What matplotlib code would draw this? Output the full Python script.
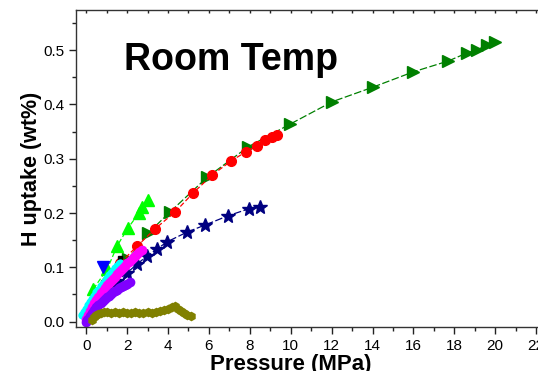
import matplotlib
matplotlib.use('Agg')
import matplotlib.pyplot as plt
from matplotlib.ticker import MultipleLocator, FormatStrFormatter, NullFormatter

plt.rcParams['font.family'] = ['Liberation Sans', 'DejaVu Sans']

# dark green right triangles
gt_x = [0.5, 1.0, 2.05, 3.03, 4.1, 5.92, 7.92, 9.98, 12.03, 14.03, 15.99, 17.7, 18.63, 19.1, 19.6, 20.0]
gt_y = [0.03, 0.065, 0.115, 0.163, 0.202, 0.266, 0.322, 0.364, 0.405, 0.432, 0.460, 0.480, 0.495, 0.500, 0.510, 0.515]

# red circles
rc_x = [1.0, 1.66, 2.49, 3.37, 4.35, 5.23, 6.16, 7.09, 7.82, 8.36, 8.75, 9.1, 9.34]
rc_y = [0.075, 0.108, 0.139, 0.171, 0.202, 0.237, 0.270, 0.296, 0.313, 0.324, 0.335, 0.340, 0.344]

# navy stars
st_x = [1.0, 1.5, 2.0, 2.49, 2.98, 3.47, 3.96, 4.94, 5.82, 6.94, 7.97, 8.5]
st_y = [0.058, 0.075, 0.090, 0.106, 0.121, 0.134, 0.147, 0.165, 0.178, 0.195, 0.208, 0.211]

# lime up triangles
lt_x = [0.35, 1.03, 1.52, 2.05, 2.59, 2.74, 3.03]
lt_y = [0.060, 0.097, 0.140, 0.173, 0.200, 0.211, 0.224]

# blue down triangle
bt_x = [0.83]
bt_y = [0.100]

# black squares
bs_x = [0.78, 0.93, 1.08, 1.27, 1.52, 1.66]
bs_y = [0.058, 0.071, 0.079, 0.090, 0.104, 0.117]

# cyan
cy_x = [-0.2, -0.1, 0.0, 0.1, 0.2, 0.3, 0.4, 0.5, 0.6, 0.7, 0.8, 0.9, 1.0, 1.1, 1.2, 1.3, 1.4, 1.5, 1.6, 1.66]
cy_y = [0.012, 0.018, 0.024, 0.030, 0.036, 0.042, 0.048, 0.054, 0.059, 0.065, 0.070, 0.075, 0.080, 0.085, 0.089, 0.094, 0.098, 0.102, 0.106, 0.108]

# magenta
mg_x = [0.0, 0.1, 0.2, 0.3, 0.4, 0.5, 0.6, 0.7, 0.8, 0.9, 1.0, 1.1, 1.2, 1.3, 1.4, 1.5, 1.6, 1.7, 1.8, 1.9, 2.0, 2.1, 2.2, 2.3, 2.4, 2.5, 2.6, 2.74]
mg_y = [0.004, 0.012, 0.020, 0.027, 0.034, 0.040, 0.046, 0.052, 0.057, 0.062, 0.067, 0.071, 0.075, 0.079, 0.083, 0.087, 0.091, 0.095, 0.099, 0.103, 0.107, 0.110, 0.114, 0.117, 0.121, 0.124, 0.128, 0.132]

# purple
pu_x = [0.0, 0.05, 0.1, 0.2, 0.3, 0.4, 0.5, 0.6, 0.7, 0.8, 0.9, 1.0, 1.1, 1.2, 1.3, 1.4, 1.5, 1.6, 1.7, 1.8, 1.9, 2.0, 2.15]
pu_y = [0.000, 0.002, 0.005, 0.011, 0.016, 0.021, 0.026, 0.030, 0.034, 0.038, 0.041, 0.045, 0.048, 0.051, 0.054, 0.057, 0.059, 0.062, 0.064, 0.066, 0.068, 0.070, 0.073]

# olive
ol_x = [0.3, 0.4, 0.5, 0.6, 0.7, 0.85, 1.0, 1.2, 1.4, 1.6, 1.8, 2.0, 2.2, 2.4, 2.6, 2.8, 3.0, 3.2, 3.4, 3.6, 3.8, 4.0, 4.2, 4.35, 4.5, 4.65, 4.8, 4.95, 5.1]
ol_y = [0.003, 0.008, 0.012, 0.014, 0.016, 0.017, 0.017, 0.016, 0.017, 0.016, 0.017, 0.016, 0.016, 0.017, 0.016, 0.016, 0.017, 0.016, 0.018, 0.019, 0.021, 0.023, 0.026, 0.028, 0.024, 0.020, 0.016, 0.013, 0.011]

fig = plt.figure(figsize=(5.38, 3.71), dpi=100)
ax = fig.add_axes([76/538, 1 - 327/371, 480.6/538, 317/371])

ax.plot(gt_x, gt_y, '--', color='#008000', lw=0.9, marker='>', ms=8, mec='#008000', mfc='#008000', dashes=(6, 2))
ax.plot(rc_x, rc_y, '--', color='#FF0000', lw=0.9, marker='o', ms=7, mec='#FF0000', mfc='#FF0000', dashes=(4, 2))
ax.plot(st_x, st_y, '--', color='#000080', lw=0.9, marker='*', ms=10, mec='#000080', mfc='#000080', dashes=(6, 2))
ax.plot(lt_x, lt_y, '--', color='#00FF00', lw=0.9, marker='^', ms=9, mec='#00FF00', mfc='#00FF00', dashes=(4, 2))
ax.plot(bt_x, bt_y, 'v', color='#0000FF', ms=9)
ax.plot(bs_x, bs_y, '--', color='black', lw=0.9, marker='s', ms=3.5, dashes=(3, 2))
ax.plot(cy_x, cy_y, '-', color='#00FFFF', lw=1, marker='o', ms=6, mew=0)
ax.plot(mg_x, mg_y, '-', color='#FF00FF', lw=1, marker='o', ms=7, mew=0)
ax.plot(pu_x, pu_y, '-', color='#8000FF', lw=1, marker='o', ms=7, mew=0)
ax.plot(ol_x, ol_y, '-', color='#808000', lw=1, marker='h', ms=7, mew=0)

ax.set_xlim(-0.5, 23)
ax.set_ylim(-0.01, 0.574)
ax.xaxis.set_major_locator(MultipleLocator(2))
ax.xaxis.set_minor_locator(MultipleLocator(1))
ax.yaxis.set_major_locator(MultipleLocator(0.1))
ax.yaxis.set_minor_locator(MultipleLocator(0.05))
ax.yaxis.set_major_formatter(FormatStrFormatter('%.1f'))
ax.tick_params(which='major', direction='out', length=5, width=1, labelsize=11, colors='#222222', labelcolor='black')
ax.tick_params(which='minor', direction='out', length=3, width=1, colors='#222222')
for side in ['left', 'bottom', 'top']:
    ax.spines[side].set_linewidth(1.0)
    ax.spines[side].set_color('#333333')
ax.spines['right'].set_visible(False)

# small inward ticks on the top edge
top = ax.secondary_xaxis('top')
top.xaxis.set_major_locator(MultipleLocator(1))
top.xaxis.set_major_formatter(NullFormatter())
top.tick_params(direction='in', length=2, width=1, colors='#222222')
top.spines['top'].set_visible(False)

ax.set_xlabel('Pressure (MPa)', fontsize=16, fontweight='bold')
ax.xaxis.set_label_coords((291 - 76) / 480.6, -0.085)
ax.set_ylabel('H uptake (wt%)', fontsize=15.5, fontweight='bold')
ax.yaxis.set_label_coords(-0.07, 0.5)

fig.text(124/538, 1 - 60/371, 'Room Temp', fontsize=27, fontweight='bold', va='center')

fig.savefig('out.png', dpi=100)
